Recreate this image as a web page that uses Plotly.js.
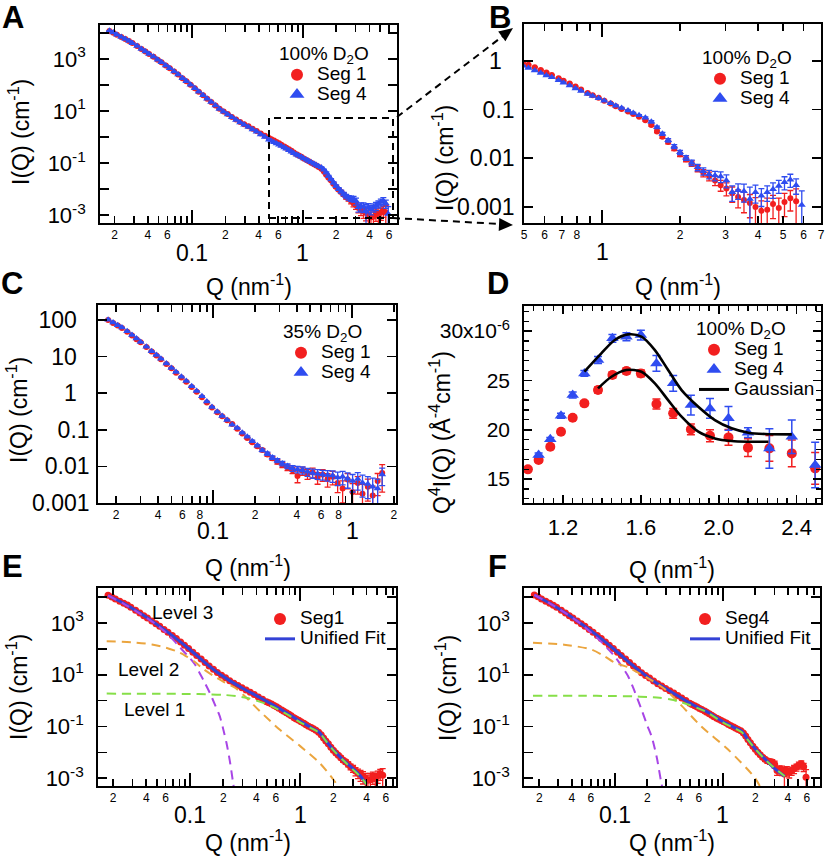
<!DOCTYPE html>
<html>
<head>
<meta charset="utf-8">
<script src="https://cdn.plot.ly/plotly-3.0.1.min.js"></script>
<style>
  html, body { margin: 0; padding: 0; background: #fff; }
  #fig { width: 826px; height: 857px; }
</style>
</head>
<body>
<div id="fig"></div>
<script>
// ---- 100% D2O, Seg 1 / Seg 4 (panels A, B, E, F) ----
const q100 = [0.018, 0.0195, 0.021, 0.023, 0.025, 0.027, 0.029, 0.032, 0.035, 0.038,
  0.041, 0.045, 0.049, 0.053, 0.058, 0.063, 0.069, 0.075, 0.082, 0.089,
  0.097, 0.106, 0.115, 0.126, 0.137, 0.149, 0.163, 0.177, 0.193, 0.21,
  0.229, 0.25, 0.272, 0.296, 0.323, 0.352, 0.383, 0.417, 0.455, 0.495,
  0.52, 0.55, 0.58, 0.61, 0.64, 0.68, 0.71, 0.75, 0.79, 0.83,
  0.88, 0.92, 0.97, 1.02, 1.08, 1.13, 1.19, 1.26, 1.32, 1.39,
  1.47, 1.55, 1.63, 1.71, 1.80, 1.90, 2.00, 2.11, 2.22, 2.34,
  2.46, 2.59, 2.73, 2.87, 3.02, 3.18, 3.35, 3.53, 3.72, 3.91,
  4.12, 4.34, 4.57, 4.81, 5.06, 5.33, 5.61, 5.90];
const seg1_100 = [11700, 10000, 8500, 6900, 5750, 4900, 4070, 3100, 2400, 1900,
  1550, 1200, 930, 740, 560, 436, 324, 251, 182, 138,
  102, 74, 55, 40, 29.5, 21.9, 16.2, 12.3, 9.5, 7.6,
  5.9, 4.7, 3.8, 3.1, 2.57, 2.09, 1.70, 1.38, 1.12, 0.91,
  0.83, 0.74, 0.65, 0.575, 0.51, 0.437, 0.39, 0.34, 0.295, 0.257,
  0.219, 0.195, 0.174, 0.151, 0.132, 0.117, 0.102, 0.091, 0.081, 0.071,
  0.060, 0.048, 0.0355, 0.0275, 0.0214, 0.0158, 0.012, 0.0095, 0.0078, 0.0062,
  0.0050, 0.0043, 0.0035, 0.0028, 0.0024, 0.0019, 0.0016, 0.00138, 0.0012, 0.0010,
  0.00083, 0.00087, 0.00115, 0.00095, 0.00126, 0.0015, 0.0013, null];
const seg4_100 = [12000, 10200, 8500, 6900, 5750, 4800, 4000, 3100, 2400, 1900,
  1550, 1200, 930, 740, 560, 436, 324, 251, 182, 138,
  102, 74, 55, 40, 29.5, 21.9, 16.2, 12.0, 9.3, 7.4,
  5.75, 4.47, 3.63, 2.95, 2.40, 1.95, 1.58, 1.26, 1.0, 0.79,
  0.71, 0.63, 0.56, 0.50, 0.457, 0.40, 0.355, 0.31, 0.27, 0.24,
  0.209, 0.19, 0.17, 0.151, 0.135, 0.12, 0.107, 0.095, 0.085, 0.076,
  0.068, 0.056, 0.043, 0.0316, 0.0234, 0.0174, 0.0132, 0.0102, 0.0081, 0.0065,
  0.0054, 0.0047, 0.0044, 0.0042, 0.0035, 0.0020, 0.0022, 0.0021, 0.00145, 0.0020,
  0.0017, 0.0020, 0.0023, 0.0027, 0.0032, 0.0036, 0.0028, 0.0011];
// relative errors
const rel1_100 = [0.02, 0.02, 0.02, 0.02, 0.02, 0.02, 0.02, 0.02, 0.02, 0.02,
  0.02, 0.02, 0.02, 0.02, 0.02, 0.02, 0.02, 0.02, 0.02, 0.02,
  0.02, 0.02, 0.02, 0.02, 0.02, 0.02, 0.02, 0.02, 0.02, 0.02,
  0.02, 0.02, 0.02, 0.02, 0.02, 0.02, 0.02, 0.02, 0.02, 0.02,
  0.02, 0.02, 0.02, 0.02, 0.02, 0.02, 0.02, 0.02, 0.02, 0.02,
  0.02, 0.02, 0.02, 0.02, 0.02, 0.03, 0.03, 0.03, 0.03, 0.03,
  0.04, 0.05, 0.06, 0.07, 0.08, 0.09, 0.10, 0.11, 0.13, 0.15,
  0.17, 0.20, 0.22, 0.25, 0.30, 0.35, 0.40, 0.45, 0.50, 0.55,
  0.60, 0.75, 0.50, 0.60, 0.50, 0.45, 0.80, 0];
const rel4_100 = [0.02, 0.02, 0.02, 0.02, 0.02, 0.02, 0.02, 0.02, 0.02, 0.02,
  0.02, 0.02, 0.02, 0.02, 0.02, 0.02, 0.02, 0.02, 0.02, 0.02,
  0.02, 0.02, 0.02, 0.02, 0.02, 0.02, 0.02, 0.02, 0.02, 0.02,
  0.02, 0.02, 0.02, 0.02, 0.02, 0.02, 0.02, 0.02, 0.02, 0.02,
  0.02, 0.02, 0.02, 0.02, 0.02, 0.02, 0.02, 0.02, 0.02, 0.02,
  0.02, 0.02, 0.02, 0.02, 0.02, 0.03, 0.03, 0.03, 0.03, 0.03,
  0.04, 0.05, 0.06, 0.07, 0.08, 0.09, 0.10, 0.11, 0.13, 0.15,
  0.17, 0.20, 0.22, 0.25, 0.30, 0.35, 0.35, 0.40, 0.75, 0.40,
  0.40, 0.35, 0.35, 0.30, 0.30, 0.30, 0.35, 0.95];

// ---- 35% D2O (panel C) ----
const q35 = [0.0175, 0.019, 0.0205, 0.022, 0.024, 0.026, 0.028, 0.030, 0.033, 0.036,
  0.039, 0.042, 0.046, 0.050, 0.054, 0.059, 0.064, 0.070, 0.076, 0.083,
  0.090, 0.098, 0.107, 0.116, 0.126, 0.137, 0.149, 0.162, 0.176, 0.191,
  0.208, 0.226, 0.246, 0.267, 0.290, 0.315, 0.343, 0.373, 0.405, 0.440,
  0.478, 0.52, 0.565, 0.614, 0.667, 0.725, 0.788, 0.856, 0.93, 1.01,
  1.10, 1.19, 1.30, 1.41, 1.53, 1.65];
const seg1_35 = [100, 83, 71, 60, 48, 38, 30, 24.5, 18.2, 13.8,
  10.7, 8.5, 6.3, 4.8, 3.6, 2.7, 2.04, 1.48, 1.10, 0.78,
  0.56, 0.41, 0.30, 0.234, 0.182, 0.145, 0.107, 0.079, 0.060, 0.046,
  0.0355, 0.028, 0.021, 0.0166, 0.0135, 0.011, 0.0093, 0.0079, 0.0055, 0.0076,
  0.0063, 0.0069, 0.005, 0.006, 0.0045, 0.0052, 0.0035, 0.0025, 0.0044, 0.002,
  0.0035, 0.0018, 0.0028, 0.0016, 0.004, 0.0066];
const seg4_35 = [102, 85, 72, 62, 49, 39, 31, 25, 18.6, 14.1,
  11, 8.7, 6.5, 4.9, 3.8, 2.8, 2.14, 1.55, 1.15, 0.83,
  0.59, 0.42, 0.31, 0.24, 0.186, 0.138, 0.112, 0.083, 0.065, 0.049,
  0.037, 0.0275, 0.0224, 0.0174, 0.0145, 0.012, 0.0102, 0.0089, 0.0083, 0.0079,
  0.0071, 0.0066, 0.0063, 0.006, 0.0058, 0.0056, 0.005, 0.0052, 0.0046, 0.004,
  0.0045, 0.0036, 0.0033, 0.0028, 0.0025, 0.006];
const rel1_35 = [0.02, 0.02, 0.02, 0.02, 0.02, 0.02, 0.02, 0.02, 0.02, 0.02,
  0.02, 0.02, 0.02, 0.02, 0.02, 0.02, 0.02, 0.02, 0.02, 0.02,
  0.02, 0.02, 0.02, 0.02, 0.02, 0.02, 0.03, 0.04, 0.05, 0.06,
  0.08, 0.09, 0.10, 0.12, 0.14, 0.16, 0.18, 0.20, 0.35, 0.25,
  0.30, 0.30, 0.35, 0.35, 0.40, 0.40, 0.45, 0.60, 0.45, 0.70,
  0.50, 0.80, 0.60, 0.80, 0.60, 0.70];
const rel4_35 = [0.02, 0.02, 0.02, 0.02, 0.02, 0.02, 0.02, 0.02, 0.02, 0.02,
  0.02, 0.02, 0.02, 0.02, 0.02, 0.02, 0.02, 0.02, 0.02, 0.02,
  0.02, 0.02, 0.02, 0.02, 0.02, 0.02, 0.03, 0.04, 0.05, 0.06,
  0.07, 0.08, 0.10, 0.11, 0.12, 0.14, 0.15, 0.18, 0.20, 0.22,
  0.25, 0.28, 0.30, 0.30, 0.32, 0.35, 0.40, 0.40, 0.45, 0.50,
  0.50, 0.60, 0.60, 0.70, 0.80, 0.50];

// ---- Panel D: Q^4 I(Q) (x10^-6 Å^-4 cm^-1) ----
const qD1 = [1.02, 1.075, 1.135, 1.19, 1.25, 1.31, 1.38, 1.454, 1.526, 1.60, 1.68, 1.766, 1.857, 1.955, 2.05, 2.15, 2.26, 2.375, 2.495];
const valD1 = [15.98, 16.93, 18.28, 19.80, 21.22, 22.67, 24.02, 25.54, 25.95, 25.71, 22.60, 21.66, 20.03, 19.39, 19.22, 18.18, 18.11, 17.60, 16.08];
const errD1 = [0.2, 0.2, 0.2, 0.2, 0.2, 0.25, 0.3, 0.3, 0.3, 0.35, 0.5, 0.5, 0.55, 0.6, 0.8, 0.9, 1.3, 1.35, 1.6];
const qD4 = [1.075, 1.135, 1.19, 1.25, 1.31, 1.38, 1.454, 1.526, 1.60, 1.68, 1.766, 1.857, 1.955, 2.05, 2.15, 2.26, 2.375, 2.495];
const valD4 = [17.43, 19.02, 21.42, 23.51, 25.71, 27.06, 29.26, 29.43, 29.59, 26.72, 24.70, 22.50, 22.16, 21.15, 19.70, 18.10, 19.29, 16.42];
const errD4 = [0.2, 0.2, 0.25, 0.3, 0.3, 0.35, 0.4, 0.4, 0.5, 0.8, 0.8, 1.0, 1.0, 1.2, 0.5, 2.0, 1.7, 2.3];
const qGauss1 = [1.38, 1.449, 1.526, 1.603, 1.672, 1.74, 1.809, 1.895, 1.98, 2.066, 2.152, 2.255];
const gauss1 = [24.19, 25.37, 26.05, 25.88, 24.70, 23.0, 21.32, 19.8, 19.12, 18.85, 18.78, 18.78];
const qGauss4 = [1.31, 1.397, 1.466, 1.534, 1.603, 1.672, 1.74, 1.809, 1.895, 1.98, 2.066, 2.152, 2.238, 2.375];
const gauss4 = [25.88, 27.74, 29.09, 29.66, 29.43, 28.07, 26.05, 24.02, 22.33, 20.98, 20.14, 19.70, 19.56, 19.53];

// ---- Unified fits and levels (panels E, F) ----
const qFitE = [0.018, 0.025, 0.035, 0.05, 0.07, 0.1, 0.13, 0.17, 0.22, 0.3, 0.4, 0.55, 0.75, 1.0, 1.3, 1.5, 1.7, 2.0, 2.5, 3.0, 3.5, 4.0];
const fitE = [11500, 5700, 2400, 870, 310, 92, 35, 14, 6.6, 3.0, 1.55, 0.74, 0.34, 0.158, 0.084, 0.058, 0.029, 0.0125, 0.0047, 0.0024, 0.00125, 0.0006];
const qL3E = [0.018, 0.025, 0.035, 0.05, 0.065, 0.08, 0.093, 0.11, 0.122, 0.135, 0.151, 0.17, 0.186, 0.2, 0.214, 0.23, 0.246, 0.26];
const lev3E = [11500, 5500, 2290, 830, 316, 120, 60, 26, 11.7, 5.2, 2.0, 0.63, 0.25, 0.079, 0.0234, 0.0045, 0.00066, 0.00016];
const qL2E = [0.0175, 0.03, 0.045, 0.06, 0.075, 0.09, 0.11, 0.13, 0.16, 0.2, 0.26, 0.33, 0.43, 0.65, 1.0, 1.5, 2.0, 2.2];
const lev2E = [195, 178, 148, 112, 81, 55, 31.6, 17.4, 9.5, 5.4, 3.0, 1.2, 0.39, 0.076, 0.0174, 0.0039, 0.00089, 0.0005];
const qL1E = [0.0175, 0.05, 0.1, 0.15, 0.2, 0.26, 0.33, 0.4, 0.5, 0.7, 1.0, 1.3, 1.5, 1.7, 2.0, 2.5, 3.0, 3.5, 4.0];
const lev1E = [1.86, 1.84, 1.80, 1.74, 1.66, 1.50, 1.25, 1.0, 0.72, 0.36, 0.145, 0.080, 0.056, 0.029, 0.0122, 0.0046, 0.0022, 0.00117, 0.00058];

const qFitF = [0.018, 0.025, 0.035, 0.05, 0.07, 0.1, 0.13, 0.17, 0.22, 0.3, 0.4, 0.55, 0.75, 1.0, 1.3, 1.5, 1.7, 2.0, 2.5, 3.0, 3.75];
const fitF = [12000, 5750, 2400, 870, 310, 92, 35, 14, 6.3, 2.85, 1.38, 0.63, 0.33, 0.155, 0.088, 0.066, 0.032, 0.0135, 0.0052, 0.0024, 0.0012];
const qL3F = [0.018, 0.025, 0.035, 0.05, 0.061, 0.075, 0.09, 0.1, 0.115, 0.133, 0.15, 0.177, 0.2, 0.219, 0.245, 0.27, 0.285];
const lev3F = [12000, 5750, 2400, 850, 407, 186, 83, 51, 22.4, 8.7, 2.75, 0.45, 0.11, 0.042, 0.0063, 0.00066, 0.00025];
const qL2F = [0.0175, 0.034, 0.061, 0.08, 0.1, 0.13, 0.17, 0.22, 0.3, 0.4, 0.63, 1.12, 1.98, 2.2];
const lev2F = [170, 145, 93, 52, 29, 20, 11.2, 6.0, 2.5, 0.76, 0.102, 0.0129, 0.00105, 0.0005];
const qL1F = [0.0175, 0.05, 0.1, 0.15, 0.2, 0.26, 0.33, 0.4, 0.5, 0.7, 1.0, 1.3, 1.5, 1.7, 2.0, 2.5, 3.0, 3.75];
const lev1F = [1.55, 1.54, 1.50, 1.45, 1.38, 1.28, 1.10, 0.90, 0.66, 0.37, 0.145, 0.083, 0.060, 0.031, 0.0135, 0.005, 0.0025, 0.0012];

// ---- tick labels ----
const xTicksLog = [0.02, 0.03, 0.04, 0.05, 0.06, 0.07, 0.08, 0.09, 0.2, 0.3, 0.4, 0.5, 0.6, 0.7, 0.8, 0.9, 2, 3, 4, 5, 6, 7];
const xTextAEF = ['2', '', '4', '', '6', '', '', '', '2', '', '4', '', '6', '', '', '', '2', '', '4', '', '6', ''];
const xTextC = ['2', '', '4', '', '6', '', '8', '', '2', '', '4', '', '6', '', '8', '', '2', '', '', '', '', ''];
const xTicksB = [0.5, 0.6, 0.7, 0.8, 0.9, 2, 3, 4, 5, 6, 7];
const xTextB = ['5', '6', '7', '8', '', '2', '3', '4', '5', '6', '7'];
const yTicksDec = [1e-3, 1e-2, 1e-1, 1, 10, 100, 1e3, 1e4];
const yTextDec = ['10<sup>-3</sup>', '', '10<sup>-1</sup>', '', '10<sup>1</sup>', '', '10<sup>3</sup>', ''];
const PAD = '&nbsp;&nbsp;';
const yTicksB = [1e-3, 1e-2, 1e-1, 1];
const yTextB = ['0.001', '0.01', '0.1', '1' + PAD];
const yTicksC = [1e-3, 1e-2, 1e-1, 1, 10, 100];
const yTextC = ['0.001', '0.01', '0.1', '1' + PAD, '10' + PAD, '100' + PAD];
const xTicksD = [1.2, 1.6, 2.0, 2.4];
const xTextD = ['1.2', '1.6', '2.0', '2.4'];
const yTicksD = [15, 20, 25, 30];
const yTextD = ['15', '20', '25', '30x10<sup>-6</sup>'];

const RED = '#f21f1f', BLUE = '#2f4cf0', FIT = '#3442d6';
const PURPLE = '#a845e6', ORANGE = '#eba53e', GREEN = '#86df48';
const FONT = 'Liberation Sans, Arial, sans-serif';

const W = 826, H = 857;
const px = v => v / W;
const py = v => 1 - v / H;

function absErr(vals, rel) {
    return vals.map((v, i) => (v == null ? null : v * rel[i]));
}

function frame(extra) {
    return Object.assign({
        showline: true, linecolor: '#000', linewidth: 1.8, mirror: 'ticks',
        ticks: 'inside', tickcolor: '#000', tickwidth: 1.6,
        showgrid: false, zeroline: false, fixedrange: true, automargin: false,
        tickmode: 'array'
    }, extra);
}
function logX(l, r, range, anchor, vals, text, decades) {
    return frame({
        type: 'log', domain: [px(l), px(r)], range: range, anchor: anchor,
        tickvals: vals, ticktext: text, ticklen: 7, tickfont: { size: 12 },
        ticklabelstandoff: 0,
        minor: { tickmode: 'array', tickvals: decades, ticks: 'inside', ticklen: 13, tickwidth: 1.6, tickcolor: '#000', showgrid: false }
    });
}
function logY(t, b, range, anchor, vals, text, size, standoff) {
    return frame({
        type: 'log', domain: [py(b), py(t)], range: range, anchor: anchor,
        tickvals: vals, ticktext: text, ticklen: 9, tickfont: { size: size },
        ticklabelstandoff: standoff
    });
}

function points(x, y, rel, xa, ya, color, symbol, size) {
    return {
        x: x, y: y, xaxis: xa, yaxis: ya, type: 'scatter', mode: 'markers', showlegend: false,
        marker: { color: color, symbol: symbol, size: size },
        error_y: { type: 'data', array: absErr(y, rel), color: color, thickness: 1.3, width: 3 },
        hoverinfo: 'skip'
    };
}
function curve(x, y, xa, ya, color, width, dash) {
    return {
        x: x, y: y, xaxis: xa, yaxis: ya, type: 'scatter', mode: 'lines', showlegend: false,
        line: { color: color, width: width, dash: dash || 'solid', shape: 'spline', smoothing: 0.8 },
        hoverinfo: 'skip'
    };
}
function key(name, legend, xa, ya, opts) {
    return Object.assign({
        x: [null], y: [null], xaxis: xa, yaxis: ya, type: 'scatter', legend: legend,
        name: '<span style="font-size:19px">' + name + '</span>', showlegend: true
    }, opts);
}
const dotKey = (c, s) => ({ mode: 'markers', marker: { color: c, symbol: s, size: s === 'circle' ? 12 : 13 } });
const lineKey = (c, w) => ({ mode: 'lines', line: { color: c, width: w } });

const DASH = '9px,6px';
const traces = [
    // A
    points(q100, seg1_100, rel1_100, 'x', 'y', RED, 'circle', 6),
    points(q100, seg4_100, rel4_100, 'x', 'y', BLUE, 'triangle-up', 7),
    // B
    points(q100, seg1_100, rel1_100, 'x2', 'y2', RED, 'circle', 6),
    points(q100, seg4_100, rel4_100, 'x2', 'y2', BLUE, 'triangle-up', 7),
    // C
    points(q35, seg1_35, rel1_35, 'x3', 'y3', RED, 'circle', 6),
    points(q35, seg4_35, rel4_35, 'x3', 'y3', BLUE, 'triangle-up', 7),
    // D
    {
        x: qD1, y: valD1, xaxis: 'x4', yaxis: 'y4', mode: 'markers', showlegend: false, hoverinfo: 'skip',
        marker: { color: RED, symbol: 'circle', size: 10 },
        error_y: { type: 'data', array: errD1, color: RED, thickness: 1.5, width: 4 }
    },
    {
        x: qD4, y: valD4, xaxis: 'x4', yaxis: 'y4', mode: 'markers', showlegend: false, hoverinfo: 'skip',
        marker: { color: BLUE, symbol: 'triangle-up', size: 11 },
        error_y: { type: 'data', array: errD4, color: BLUE, thickness: 1.5, width: 4 }
    },
    curve(qGauss4, gauss4, 'x4', 'y4', '#000', 2.6),
    curve(qGauss1, gauss1, 'x4', 'y4', '#000', 2.6),
    // E
    points(q100, seg1_100, rel1_100, 'x5', 'y5', RED, 'circle', 7),
    curve(qFitE, fitE, 'x5', 'y5', FIT, 3),
    curve(qL3E, lev3E, 'x5', 'y5', PURPLE, 2, DASH),
    curve(qL2E, lev2E, 'x5', 'y5', ORANGE, 2, DASH),
    curve(qL1E, lev1E, 'x5', 'y5', GREEN, 2, DASH),
    // F
    points(q100, seg4_100, rel4_100, 'x6', 'y6', RED, 'circle', 7),
    curve(qFitF, fitF, 'x6', 'y6', FIT, 3),
    curve(qL3F, lev3F, 'x6', 'y6', PURPLE, 2, DASH),
    curve(qL2F, lev2F, 'x6', 'y6', ORANGE, 2, DASH),
    curve(qL1F, lev1F, 'x6', 'y6', GREEN, 2, DASH),
    // legend entries
    key('Seg 1', 'legend', 'x', 'y', dotKey(RED, 'circle')),
    key('Seg 4', 'legend', 'x', 'y', dotKey(BLUE, 'triangle-up')),
    key('Seg 1', 'legend2', 'x2', 'y2', dotKey(RED, 'circle')),
    key('Seg 4', 'legend2', 'x2', 'y2', dotKey(BLUE, 'triangle-up')),
    key('Seg 1', 'legend3', 'x3', 'y3', dotKey(RED, 'circle')),
    key('Seg 4', 'legend3', 'x3', 'y3', dotKey(BLUE, 'triangle-up')),
    key('Seg 1', 'legend4', 'x4', 'y4', dotKey(RED, 'circle')),
    key('Seg 4', 'legend4', 'x4', 'y4', dotKey(BLUE, 'triangle-up')),
    key('Gaussian', 'legend4', 'x4', 'y4', lineKey('#000', 3)),
    key('Seg1', 'legend5', 'x5', 'y5', dotKey(RED, 'circle')),
    key('Unified Fit', 'legend5', 'x5', 'y5', lineKey(FIT, 3)),
    key('Seg4', 'legend6', 'x6', 'y6', dotKey(RED, 'circle')),
    key('Unified Fit', 'legend6', 'x6', 'y6', lineKey(FIT, 3))
];

function legendAt(left, top, title) {
    const lg = {
        x: px(left), y: py(top), xanchor: 'left', yanchor: 'top',
        bgcolor: 'rgba(0,0,0,0)', borderwidth: 0, tracegroupgap: 0,
        font: { size: 13, color: '#000' }
    };
    if (title) lg.title = { text: title, font: { size: 19, color: '#000' } };
    return lg;
}

const ann = [];
function note(x, y, text, size, extra) {
    ann.push(Object.assign({
        xref: 'paper', yref: 'paper', x: px(x), y: py(y), text: text, showarrow: false,
        font: { size: size, color: '#000' }, xanchor: 'center', yanchor: 'middle'
    }, extra || {}));
}
function decade(xa, logv, y, text) {
    ann.push({ xref: xa, yref: 'paper', x: logv, y: py(y), text: text, showarrow: false,
        font: { size: 23, color: '#000' }, xanchor: 'center', yanchor: 'middle' });
}
// panel letters
[['A', 13, 17], ['B', 500, 17], ['C', 12, 283], ['D', 498, 283], ['E', 12, 566], ['F', 498, 566]]
    .forEach(([t, x, y]) => note(x, y, '<b>' + t + '</b>', 31));
// decade labels under log axes
decade('x', -1, 253, '0.1'); decade('x', 0, 253, '1');
decade('x2', 0, 252, '1');
decade('x3', -1, 531, '0.1'); decade('x3', 0, 531, '1');
decade('x5', -1, 815, '0.1'); decade('x5', 0, 815, '1');
decade('x6', -1, 815, '0.1'); decade('x6', 0, 815, '1');
// axis titles
const QT = 'Q (nm<sup>-1</sup>)', IT = 'I(Q) (cm<sup>-1</sup>)';
note(249, 285, QT, 23); note(678, 285, QT, 23);
note(248, 566, QT, 23); note(672, 568, QT, 23);
note(248, 841, QT, 23); note(672, 841, QT, 23);
note(19, 132, IT, 23, { textangle: -90 });
note(443, 158, IT, 23, { textangle: -90 });
note(17, 410, IT, 23, { textangle: -90 });
note(440, 433, 'Q<sup>4</sup>I(Q) (Å<sup>-4</sup>cm<sup>-1</sup>)', 23, { textangle: -90 });
note(17, 687, IT, 23, { textangle: -90 });
note(446, 688, IT, 23, { textangle: -90 });
// unified fit level labels
note(182, 612, 'Level 3', 19); note(148, 669, 'Level 2', 19); note(154, 709, 'Level 1', 19);

// zoom box in A and the dashed arrows to B
const dashed = { color: '#000', width: 2, dash: '7px,5px' };
const shapes = [
    { type: 'rect', xref: 'paper', yref: 'paper', x0: px(269), x1: px(393), y0: py(218), y1: py(118), line: dashed },
    { type: 'line', xref: 'paper', yref: 'paper', x0: px(397), y0: py(117), x1: px(503), y1: py(36), line: dashed },
    { type: 'line', xref: 'paper', yref: 'paper', x0: px(393), y0: py(218), x1: px(500), y1: py(224), line: dashed },
    { type: 'path', xref: 'paper', yref: 'paper', fillcolor: '#000', line: { width: 0 },
      path: `M${px(513)},${py(28)} L${px(505.4)},${py(41.2)} L${px(498.2)},${py(31.6)} Z` },
    { type: 'path', xref: 'paper', yref: 'paper', fillcolor: '#000', line: { width: 0 },
      path: `M${px(513)},${py(225)} L${px(498.7)},${py(231)} L${px(499.3)},${py(218)} Z` }
];

const layout = {
    width: W, height: H, margin: { l: 0, r: 0, t: 0, b: 0 },
    paper_bgcolor: '#fff', plot_bgcolor: '#fff',
    font: { family: FONT, color: '#000', size: 14 },
    showlegend: true,
    xaxis: logX(100, 397, [-1.83, 0.85], 'y', xTicksLog, xTextAEF, [0.1, 1]),
    yaxis: logY(25, 223, [-3.3, 4.3], 'x', yTicksDec, yTextDec, 22, 8),
    xaxis2: logX(524, 821, [-0.301, 0.845], 'y2', xTicksB, xTextB, [1]),
    yaxis2: logY(24, 223, [-3.33, 0.755], 'x2', yTicksB, yTextB, 23, 3),
    xaxis3: logX(98, 396, [-1.83, 0.317], 'y3', xTicksLog, xTextC, [0.1, 1]),
    yaxis3: logY(305, 503, [-3.0, 2.41], 'x3', yTicksC, yTextC, 23, 2),
    xaxis4: frame({
        domain: [px(524), px(821)], range: [1.0, 2.525], anchor: 'y4',
        tickvals: xTicksD, ticktext: xTextD, ticklen: 8, tickfont: { size: 22 }, ticklabelstandoff: 4,
        minor: { tickmode: 'linear', tick0: 1, dtick: 0.05, ticks: 'inside', ticklen: 5, tickwidth: 1.3, tickcolor: '#000', showgrid: false }
    }),
    yaxis4: frame({
        domain: [py(503), py(306)], range: [12.57, 32.54], anchor: 'x4',
        tickvals: yTicksD, ticktext: yTextD, ticklen: 8, tickfont: { size: 21 }, ticklabelstandoff: 8,
        minor: { tickmode: 'linear', tick0: 0, dtick: 1, ticks: 'inside', ticklen: 5, tickwidth: 1.3, tickcolor: '#000', showgrid: false }
    }),
    xaxis5: logX(98, 396, [-1.836, 0.87], 'y5', xTicksLog, xTextAEF, [0.1, 1]),
    yaxis5: logY(588, 786, [-3.3, 4.35], 'x5', yTicksDec, yTextDec, 22, 8),
    xaxis6: logX(524, 820, [-1.84, 0.9], 'y6', xTicksLog, xTextAEF, [0.1, 1]),
    yaxis6: logY(588, 786, [-3.3, 4.35], 'x6', yTicksDec, yTextDec, 22, 8),
    legend: legendAt(277, 35, '100% D<sub>2</sub>O'),
    legend2: legendAt(700, 39, '100% D<sub>2</sub>O'),
    legend3: legendAt(281, 313, '35% D<sub>2</sub>O'),
    legend4: legendAt(694, 310, '100% D<sub>2</sub>O'),
    legend5: legendAt(260, 604),
    legend6: legendAt(685, 604),
    annotations: ann,
    shapes: shapes
};

Plotly.newPlot('fig', traces, layout, { displayModeBar: false, staticPlot: true });
</script>
</body>
</html>
